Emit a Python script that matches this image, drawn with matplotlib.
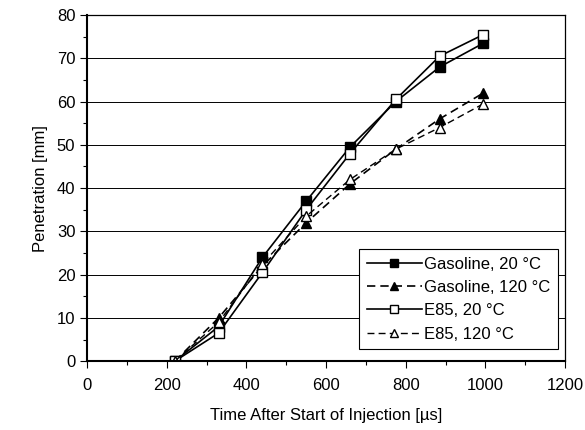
import matplotlib
matplotlib.use("Agg")
import matplotlib.pyplot as plt
from matplotlib.ticker import MultipleLocator

plt.rcParams['font.family'] = ['Liberation Sans', 'DejaVu Sans']

time_us = [220, 330, 440, 550, 660, 775, 885, 995]
gas_20 = [0, 8, 24, 37, 49.5, 60, 68, 73.5]
gas_120 = [0, 10, 22, 32, 41, 49, 56, 62]
e85_20 = [0, 6.5, 20.5, 35, 48, 60.5, 70.5, 75.5]
e85_120 = [0, 9, 22.5, 33.5, 42, 49, 54, 59.5]

fig = plt.figure(figsize=(5.85, 4.3), dpi=100)
ax = fig.add_axes([0.149, 0.16, 0.817, 0.805])

ax.plot(time_us, gas_20, '-', color='black', lw=1.2, marker='s', ms=6.5,
        mfc='black', mec='black', label='Gasoline, 20 °C')
ax.plot(time_us, gas_120, '--', color='black', lw=1.2, marker='^', ms=6.5,
        mfc='black', mec='black', label='Gasoline, 120 °C', dashes=(5, 3))
ax.plot(time_us, e85_20, '-', color='black', lw=1.2, marker='s', ms=7,
        mfc='white', mec='black', label='E85, 20 °C')
ax.plot(time_us, e85_120, '--', color='black', lw=1.0, marker='^', ms=7,
        mfc='white', mec='black', label='E85, 120 °C', dashes=(5, 3))

ax.set_xlim(0, 1200)
ax.set_ylim(0, 80)
ax.xaxis.set_major_locator(MultipleLocator(200))
ax.xaxis.set_minor_locator(MultipleLocator(100))
ax.yaxis.set_major_locator(MultipleLocator(10))
ax.yaxis.set_minor_locator(MultipleLocator(5))
ax.tick_params(which='both', direction='out', labelsize=12, width=0.8)
ax.tick_params(which='major', length=5)
ax.tick_params(which='minor', length=3)
ax.tick_params(axis='x', pad=7)
ax.grid(axis='y', which='major', color='black', lw=0.7)
ax.set_axisbelow(True)
for s in ax.spines.values():
    s.set_linewidth(0.9)
ax.spines['left'].set_linewidth(1.5)
ax.spines['bottom'].set_linewidth(1.5)

ax.set_xlabel('Time After Start of Injection [µs]', fontsize=12, labelpad=11)
ax.set_ylabel('Penetration [mm]', fontsize=12, labelpad=6)

leg = ax.legend(loc='lower right', bbox_to_anchor=(0.985, 0.035), fontsize=12,
                fancybox=False, edgecolor='black', framealpha=1,
                handlelength=3.3, handletextpad=0.15, borderpad=0.45,
                labelspacing=0.5, markerscale=0.85, borderaxespad=0)
leg.get_frame().set_linewidth(0.8)

fig.savefig('out.png', dpi=100)
